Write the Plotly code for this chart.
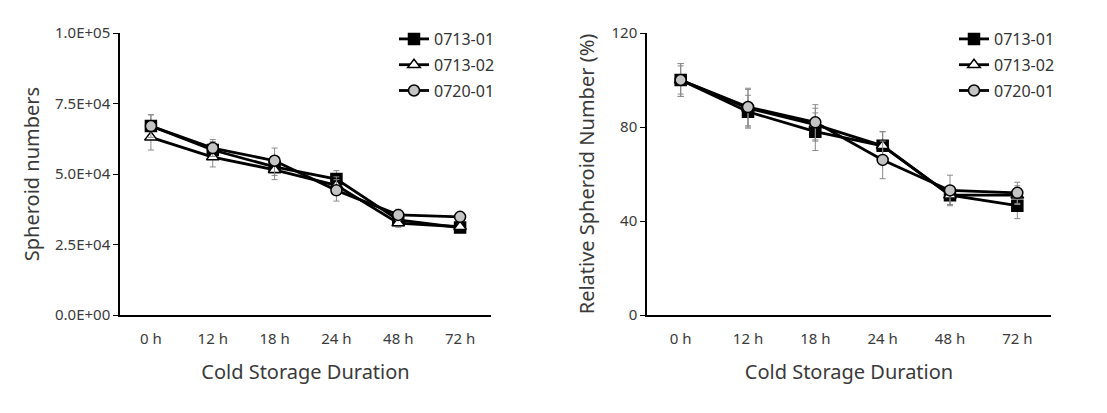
import plotly.graph_objects as go

categories = ["0 h", "12 h", "18 h", "24 h", "48 h", "72 h"]
series_names = ["0713-01", "0713-02", "0720-01"]

# Left panel: spheroid numbers
num_0713_01 = [67000, 58500, 52500, 48200, 33700, 31000]
num_0713_02 = [63000, 56000, 51500, 46000, 32600, 31300]
num_0720_01 = [67000, 59200, 54700, 44200, 35500, 34800]
num_err_0713_01 = [4000, 3000, 3000, 3000, 2000, 1000]
num_err_0713_02 = [4500, 3500, 3500, 3000, 1500, 1000]
num_err_0720_01 = [4000, 3000, 4500, 3800, 2000, 1000]

# Right panel: relative spheroid number (%)
rel_0713_01 = [100, 86.5, 78, 72, 51, 46.5]
rel_0713_02 = [100, 88, 81, 72, 51, 51]
rel_0720_01 = [100, 88.5, 82, 66, 53, 52]
rel_err_0713_01 = [7, 7, 8, 6, 4, 5.5]
rel_err_0713_02 = [7, 8, 7, 6, 4, 4]
rel_err_0720_01 = [6, 8, 7.5, 8, 6.5, 4.5]

left_ticks = [0, 25000, 50000, 75000, 100000]
left_ticktext = ["0.0E+00", "2.5E+04", "5.0E+04", "7.5E+04", "1.0E+05"]
right_ticks = [0, 40, 80, 120]

W, H = 1107, 413
FONT = "Noto Sans"
TXT = "#3a3a3a"

styles = [
    dict(symbol="square", color="black", line=dict(color="black", width=1.5)),
    dict(symbol="triangle-up", color="white", line=dict(color="black", width=1.5)),
    dict(symbol="circle", color="#c4c4c4", line=dict(color="black", width=1.5)),
]

fig = go.Figure()

left_data = [(num_0713_01, num_err_0713_01), (num_0713_02, num_err_0713_02), (num_0720_01, num_err_0720_01)]
right_data = [(rel_0713_01, rel_err_0713_01), (rel_0713_02, rel_err_0713_02), (rel_0720_01, rel_err_0720_01)]

for i, (name, (vals, errs)) in enumerate(zip(series_names, left_data)):
    fig.add_trace(go.Scatter(
        x=categories, y=vals, name=name, mode="lines+markers",
        xaxis="x", yaxis="y", legend="legend", legendgroup="L" + name,
        line=dict(color="black", width=2.8),
        marker=dict(size=11, **styles[i]),
        error_y=dict(type="data", array=errs, color="#8a8a8a", thickness=1, width=3),
    ))

for i, (name, (vals, errs)) in enumerate(zip(series_names, right_data)):
    fig.add_trace(go.Scatter(
        x=categories, y=vals, name=name, mode="lines+markers",
        xaxis="x2", yaxis="y2", legend="legend2", legendgroup="R" + name,
        line=dict(color="black", width=2.8),
        marker=dict(size=11, **styles[i]),
        error_y=dict(type="data", array=errs, color="#8a8a8a", thickness=1, width=3),
    ))

ydom = [1 - 315 / H, 1 - 33 / H]

xtickfont = dict(family=FONT, size=15, color=TXT)
ytickfont = dict(family=FONT, size=15, color=TXT)
titlefont = dict(family=FONT, size=20, color=TXT)
axis_common = dict(showline=True, linecolor="black", linewidth=1.5, showgrid=False,
                   zeroline=False, automargin=False)

fig.update_layout(
    width=W, height=H,
    margin=dict(l=0, r=0, t=0, b=0),
    paper_bgcolor="white", plot_bgcolor="white",
    font=dict(family=FONT, color=TXT),
    xaxis=dict(domain=[120 / W, 491 / W], type="category", range=[-0.5, 5.5],
               ticks="", ticklabelstandoff=9, anchor="y", tickfont=xtickfont,
               title=dict(text="Cold Storage Duration", font=titlefont, standoff=18),
               **axis_common),
    yaxis=dict(domain=ydom, range=[0, 100000], tickvals=left_ticks, ticktext=left_ticktext,
               ticks="outside", ticklen=5, tickcolor="black", tickwidth=1.2, anchor="x",
               tickfont=ytickfont,
               title=dict(text="Spheroid numbers", font=titlefont, standoff=10),
               **axis_common),
    xaxis2=dict(domain=[647 / W, 1051 / W], type="category", range=[-0.5, 5.5],
                ticks="", ticklabelstandoff=9, anchor="y2", tickfont=xtickfont,
                title=dict(text="Cold Storage Duration", font=titlefont, standoff=18),
                **axis_common),
    yaxis2=dict(domain=ydom, range=[0, 120], tickvals=right_ticks,
                ticks="outside", ticklen=5, tickcolor="black", tickwidth=1.2, anchor="x2",
                tickfont=ytickfont,
                title=dict(text="Relative Spheroid Number (%)", font=titlefont, standoff=12),
                **axis_common),
    legend=dict(x=394 / W, y=1 - 22 / H, xanchor="left", yanchor="top",
                bgcolor="rgba(0,0,0,0)", tracegroupgap=2,
                font=dict(family=FONT, size=16, color="#333")),
    legend2=dict(x=954 / W, y=1 - 22 / H, xanchor="left", yanchor="top",
                 bgcolor="rgba(0,0,0,0)", tracegroupgap=2,
                 font=dict(family=FONT, size=16, color="#333")),
    showlegend=True,
)

fig.write_html("out.html")
